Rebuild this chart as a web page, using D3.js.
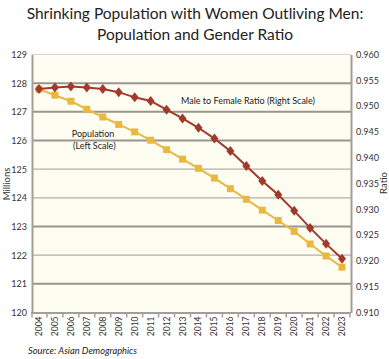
<!DOCTYPE html>
<html><head><meta charset="utf-8">
<script src="https://cdn.jsdelivr.net/npm/d3@7"></script>
<style>
html,body{margin:0;padding:0;background:#fff;}
text{font-family:Lato,"Open Sans",sans-serif;}
</style></head>
<body><svg id="c" width="389" height="359"></svg>
<script>
const years = ["2004","2005","2006","2007","2008","2009","2010","2011","2012","2013","2014","2015","2016","2017","2018","2019","2020","2021","2022","2023"];
const population = [127.79,127.58,127.37,127.09,126.82,126.56,126.30,126.01,125.68,125.35,125.03,124.69,124.32,123.95,123.57,123.21,122.83,122.39,121.97,121.58];
const ratio = [0.9533,0.9536,0.9538,0.9536,0.9533,0.9527,0.9517,0.9510,0.9493,0.9476,0.9458,0.9437,0.9413,0.9384,0.9355,0.9328,0.9297,0.9264,0.9233,0.9204];
const leftTicks = [120,121,122,123,124,125,126,127,128,129];
const rightTicks = [0.910,0.915,0.920,0.925,0.930,0.935,0.940,0.945,0.950,0.955,0.960];
const lightGrid = [122,124,125];

const svg = d3.select("#c");
const L = 32, R = 351, T = 54.5, B = 312.5;
const x = d3.scaleBand().domain(years).range([L-1, R-1]);
const yL = d3.scaleLinear().domain([120,129]).range([B,T]);
const yR = d3.scaleLinear().domain([0.910,0.960]).range([B,T]);

// title
const title = svg.append("text").attr("text-anchor","middle").attr("fill","#222").style("font-size","15.5px");
title.append("tspan").attr("x",195).attr("y",19).text("Shrinking Population with Women Outliving Men:");
title.append("tspan").attr("x",195).attr("y",40).text("Population and Gender Ratio");

// plot bg
svg.append("rect").attr("x",L).attr("y",T).attr("width",R-L).attr("height",B-T).attr("fill","#fefdf2");
svg.append("line").attr("x1",L).attr("x2",R).attr("y1",T).attr("y2",T).attr("stroke","#d8d4cc").attr("stroke-width",1);

// gridlines
svg.append("g").selectAll("line").data(leftTicks.filter(d=>d>120 && d<129)).join("line")
  .attr("x1",L).attr("x2",R).attr("y1",d=>yL(d)).attr("y2",d=>yL(d))
  .attr("stroke",d=>lightGrid.includes(d)?"#b3aea8":"#9a958f")
  .attr("stroke-width",d=>lightGrid.includes(d)?1.2:2);

// axes
const gl = svg.append("g").attr("transform",`translate(${L},0)`)
  .call(d3.axisLeft(yL).tickValues(leftTicks).tickSize(0).tickPadding(5).tickFormat(d3.format("d")));
const gr = svg.append("g").attr("transform",`translate(${R},0)`)
  .call(d3.axisRight(yR).tickValues(rightTicks).tickSize(0).tickPadding(5).tickFormat(d3.format(".3f")));
const gb = svg.append("g").attr("transform",`translate(0,${B})`)
  .call(d3.axisBottom(x).tickSize(0).tickPadding(3));
[gl,gr,gb].forEach(g=>{g.select(".domain").attr("stroke","#a39e98").attr("stroke-width",2);
  g.selectAll("text").attr("fill","#333").style("font-size","9px");});
gb.selectAll(".tick text").attr("transform","rotate(-90)").attr("text-anchor","end")
  .attr("x",-4).attr("y",0).attr("dy","0.35em").style("font-size","8.5px");
// category separator ticks
gb.append("g").selectAll("line").data(years).join("line")
  .attr("x1",d=>x(d)+x.bandwidth()).attr("x2",d=>x(d)+x.bandwidth())
  .attr("y1",0).attr("y2",5).attr("stroke","#a39e98").attr("stroke-width",1.5);
gb.append("line").attr("x1",L).attr("x2",L).attr("y1",0).attr("y2",5).attr("stroke","#a39e98").attr("stroke-width",1.5);

// axis titles
svg.append("text").attr("transform","translate(9.5,184) rotate(-90)").attr("text-anchor","middle")
  .style("font-size","9.5px").attr("fill","#333").text("Millions");
svg.append("text").attr("transform","translate(387,183) rotate(-90)").attr("text-anchor","middle")
  .style("font-size","9.5px").attr("fill","#333").text("Ratio");

// lines
const cx = d => x(d) + x.bandwidth()/2;
const popColor = "#ebb83e", ratColor = "#a13a2b";
svg.append("path").datum(population).attr("fill","none").attr("stroke",popColor).attr("stroke-width",2)
  .attr("d",d3.line().x((d,i)=>cx(years[i])).y(d=>yL(d)));
svg.append("g").selectAll("rect").data(population).join("rect")
  .attr("x",(d,i)=>cx(years[i])-3.5).attr("y",d=>yL(d)-3.5).attr("width",7).attr("height",7).attr("fill",popColor);
svg.append("path").datum(ratio).attr("fill","none").attr("stroke",ratColor).attr("stroke-width",2)
  .attr("d",d3.line().x((d,i)=>cx(years[i])).y(d=>yR(d)));
svg.append("g").selectAll("path").data(ratio).join("path")
  .attr("transform",(d,i)=>`translate(${cx(years[i])},${yR(d)})`)
  .attr("d","M0,-5L4,0L0,5L-4,0Z").attr("fill",ratColor);

// annotations
svg.append("text").attr("x",181).attr("y",104).style("font-size","9px").attr("fill","#222").text("Male to Female Ratio (Right Scale)");
svg.append("text").attr("x",93).attr("y",137).attr("text-anchor","middle").style("font-size","9px").attr("fill","#222").text("Population");
svg.append("text").attr("x",73).attr("y",149).style("font-size","9px").attr("fill","#222").text("(Left Scale)");

// source
svg.append("text").attr("x",28).attr("y",354).style("font-size","9.3px").style("font-style","italic").attr("fill","#222").text("Source: Asian Demographics");
</script></body></html>
